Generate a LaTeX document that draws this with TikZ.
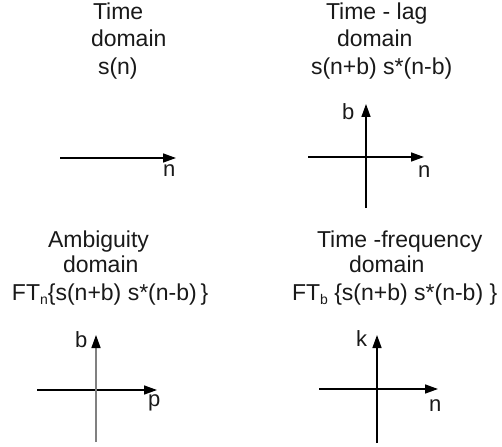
\documentclass[tikz,border=0pt]{standalone}
\usepackage{fontspec}
\setmainfont{Liberation Sans}
\usetikzlibrary{arrows.meta}
\begin{document}
\begin{tikzpicture}[x=1pt,y=-1pt,
  lbl/.style={anchor=base west,inner sep=0pt,outer sep=0pt,font=\fontsize{23}{23}\selectfont,text=black!90},
  axl/.style={anchor=base west,inner sep=0pt,outer sep=0pt,font=\fontsize{22}{22}\selectfont,text=black!90},
  axis/.style={line width=1.5pt,-{Triangle[length=13pt,width=9pt]}},
  plain/.style={line width=1.5pt}]
\useasboundingbox (0,0) rectangle (502,446);
% Panel 1
\node[lbl] (t1a) at (93,20) {Time};
\node[lbl] (t1b) at (91,47) {domain};
\node[lbl] (t1c) at (98,75) {s(n)};
\coordinate (a1l) at (60,158);
\coordinate (a1r) at (176,158);
\draw[axis] (a1l) -- (a1r);
\node[axl] (n1) at (163,177) {n};
% Panel 2
\node[lbl] (t2a) at (326,20) {Time - lag};
\node[lbl] (t2b) at (337,47) {domain};
\node[lbl] (t2c) at (311,75) {s(n+b) s*(n-b)};
\coordinate (h2l) at (308,157);
\coordinate (h2r) at (424,157);
\coordinate (v2b) at (366,208);
\coordinate (v2t) at (366,104);
\draw[axis] (h2l) -- (h2r);
\draw[axis] (v2b) -- (v2t);
\node[axl] (b2) at (342,120) {b};
\node[axl] (n2) at (418,178) {n};
% Panel 3
\node[lbl] (t3a) at (48,247) {Ambiguity};
\node[lbl] (t3b) at (63,272) {domain};
\node[lbl] (t3c) at (12,300) {FT\raisebox{-4pt}{\fontsize{14}{14}\selectfont n}\{s(n+b) s*(n-b)\,\}};
\coordinate (h3l) at (37,390);
\coordinate (h3r) at (157,390);
\coordinate (v3b) at (96,442);
\coordinate (v3t) at (96,335);
\draw[axis] (h3l) -- (h3r);
\draw[line width=1.5pt,black!50,-{Triangle[length=13pt,width=9pt,color=black]}] (v3b) -- (v3t);
\node[axl] (b3) at (75,347) {b};
\node[axl] (p3) at (148,406) {p};
% Panel 4
\node[lbl] (t4a) at (317,247) {Time -frequency};
\node[lbl] (t4b) at (349,272) {domain};
\node[lbl] (t4c) at (292,300) {FT\raisebox{-4pt}{\fontsize{14}{14}\selectfont b} \{s(n+b) s*(n-b) \}};
\coordinate (h4l) at (319,389);
\coordinate (h4r) at (438,389);
\coordinate (v4b) at (377,443);
\coordinate (v4t) at (377,335);
\draw[axis] (h4l) -- (h4r);
\draw[axis] (v4b) -- (v4t);
\node[axl] (k4) at (356,346) {k};
\node[axl] (n4) at (429,411) {n};
\end{tikzpicture}
\end{document}
